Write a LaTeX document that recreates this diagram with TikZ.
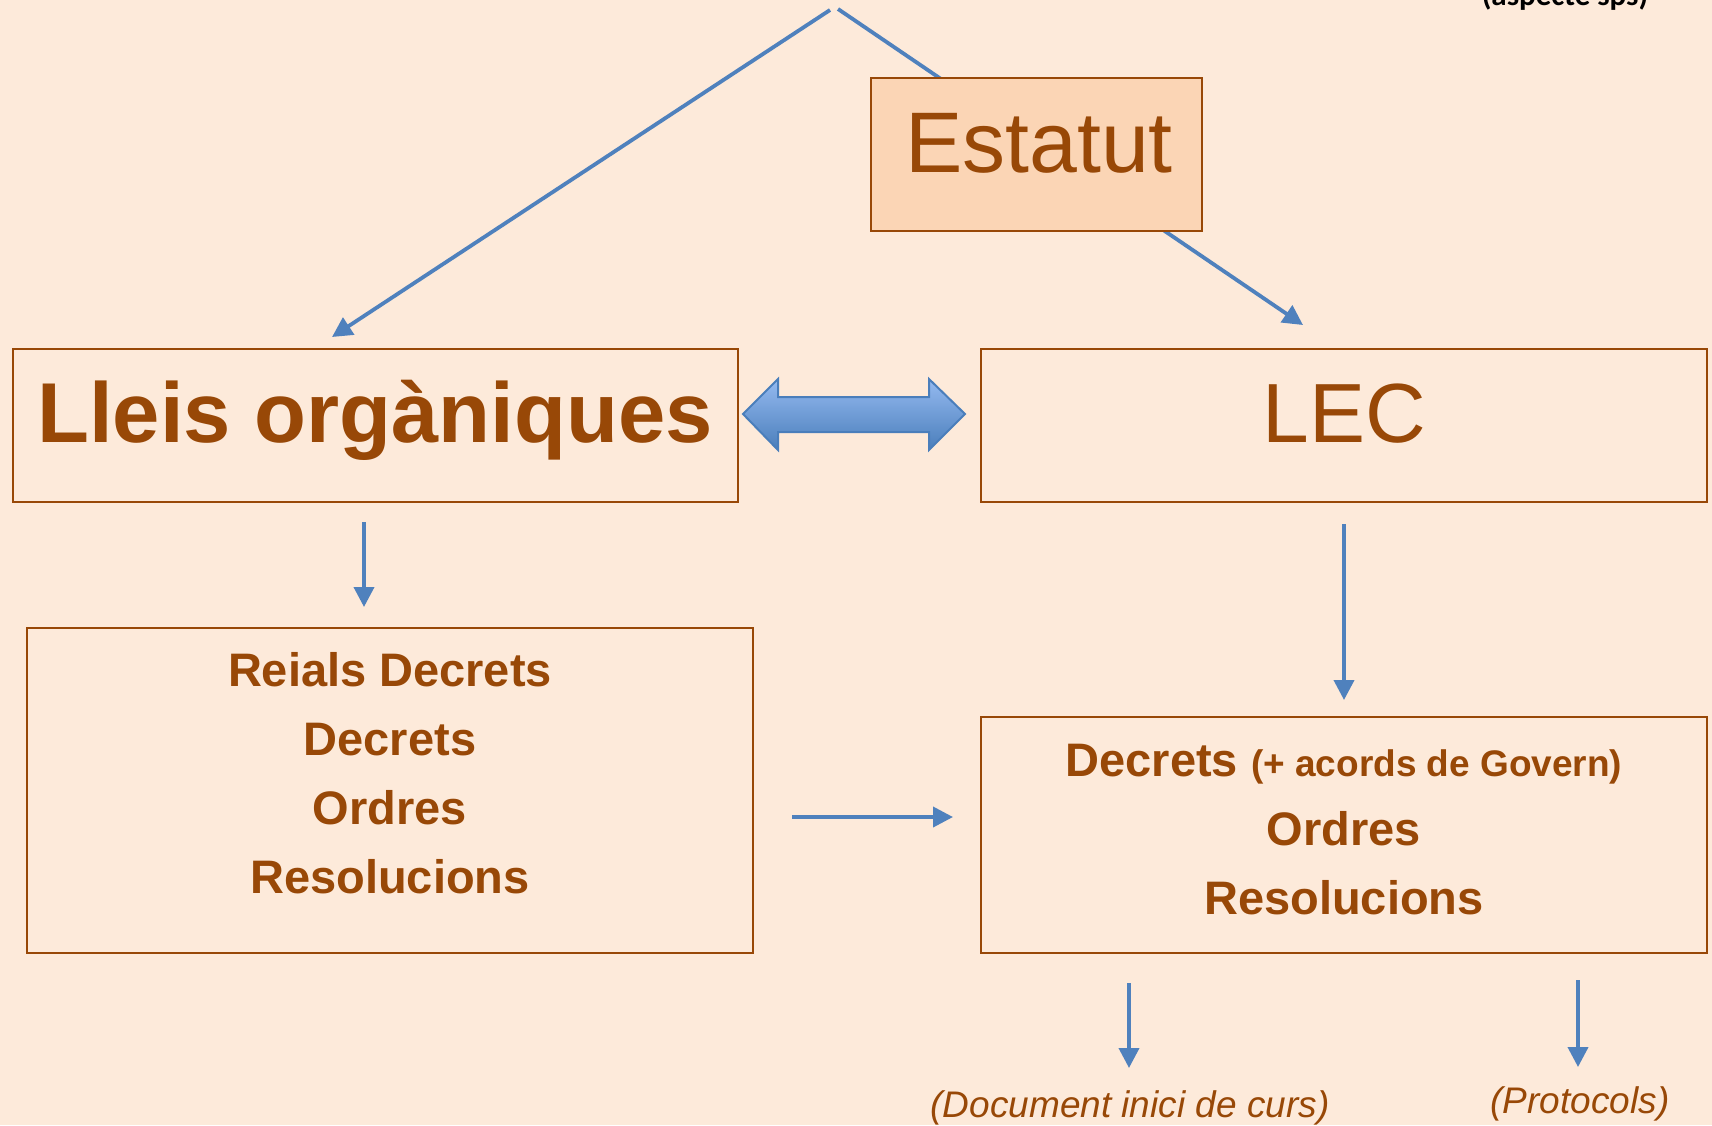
\documentclass[tikz,border=0pt]{standalone}
\usepackage{fontspec}
\setmainfont{Liberation Sans}
\newfontfamily\calib{Carlito}
\usetikzlibrary{arrows.meta}
\definecolor{bg}{HTML}{FDEADA}
\definecolor{brn}{HTML}{984807}
\definecolor{estfill}{HTML}{FBD5B5}
\definecolor{blu}{HTML}{4F81BD}
\definecolor{blulight}{HTML}{95BAF0}
\definecolor{bludark}{HTML}{4A7EBB}
\tikzset{
  box/.style={draw=brn, line width=2.8pt, inner sep=0pt},
  txt/.style={text=brn, anchor=base, inner sep=0pt},
  conn/.style={draw=blu, line width=3.8pt, -{Triangle[length=20pt,width=20pt]}},
}
\begin{document}
\begin{tikzpicture}[x=1pt,y=-1pt]
\fill[bg] (0,0) rectangle (1712,1125);
\useasboundingbox (0,0) rectangle (1712,1125);

% partially visible top-right text (cut off at the top edge, as in the reference)
\begin{scope}
\clip (1400,0) rectangle (1712,20);
\node[anchor=base, inner sep=0pt, text=black] (note) at (1565,5) {\calib\bfseries\fontsize{31}{33}\selectfont (aspecte sps)};
\end{scope}

% apex coordinates and arrow targets
\coordinate (apexL) at (830,10);
\coordinate (apexR) at (838,9);
\coordinate (tipL) at (332,337);
\coordinate (tipR) at (1303,325);

\draw[conn] (apexL) -- (tipL);
\draw[conn] (apexR) -- (tipR);

% Estatut box
\node[box, fill=estfill, minimum width=331pt, minimum height=153pt] (est) at (1036.5,154.5) {};
\node[txt] (estT) at (1039,172) {\fontsize{86}{90}\selectfont Estatut};

% Lleis organiques box
\node[box, minimum width=725pt, minimum height=153pt] (lo) at (375.5,425.5) {};
\node[txt] (loT) at (375,442) {\bfseries\fontsize{85}{90}\selectfont Lleis orgàniques};

% LEC box
\node[box, minimum width=726pt, minimum height=153pt] (lec) at (1344,425.5) {};
\node[txt] (lecT) at (1344,442) {\fontsize{84}{90}\selectfont LEC};

% double arrow
\shade[top color=blulight, bottom color=bludark, draw=bludark, line width=2pt, line join=miter]
  (743,414) -- (778,379) -- (778,397) -- (929,397) -- (929,379) -- (965,414)
  -- (929,450) -- (929,432) -- (778,432) -- (778,450) -- cycle;

% lower left box
\node[box, minimum width=726pt, minimum height=325pt] (ll) at (390,790.5) {};
\node[txt] (ll1) at (390,686) {\bfseries\fontsize{47}{50}\selectfont Reials Decrets};
\node[txt] (ll2) at (390,755) {\bfseries\fontsize{47}{50}\selectfont Decrets};
\node[txt] (ll3) at (390,824) {\bfseries\fontsize{47}{50}\selectfont Ordres};
\node[txt] (ll4) at (390,893) {\bfseries\fontsize{47}{50}\selectfont Resolucions};

% lower right box
\node[box, minimum width=726pt, minimum height=236pt] (lr) at (1344,835) {};
\node[txt] (lr1) at (1344,776) {\bfseries\fontsize{47}{50}\selectfont Decrets {\fontsize{37}{40}\selectfont (+ acords de Govern)}};
\node[txt] (lr2) at (1344,845) {\bfseries\fontsize{47}{50}\selectfont Ordres};
\node[txt] (lr3) at (1344,914) {\bfseries\fontsize{47}{50}\selectfont Resolucions};

% vertical / horizontal arrows
\coordinate (a1s) at (364,522); \coordinate (a1e) at (364,607);
\coordinate (a2s) at (1344,524); \coordinate (a2e) at (1344,700);
\coordinate (a3s) at (792,817); \coordinate (a3e) at (953,817);
\coordinate (a4s) at (1129,983); \coordinate (a4e) at (1129,1068);
\coordinate (a5s) at (1578,980); \coordinate (a5e) at (1578,1067);
\draw[conn] (a1s) -- (a1e);
\draw[conn] (a2s) -- (a2e);
\draw[conn] (a3s) -- (a3e);
\draw[conn] (a4s) -- (a4e);
\draw[conn] (a5s) -- (a5e);

% bottom italic texts
\node[txt] (doc) at (1130,1117) {\itshape\fontsize{37}{40}\selectfont (Document inici de curs)};
\node[txt] (prot) at (1580,1113) {\itshape\fontsize{37}{40}\selectfont (Protocols)};
\end{tikzpicture}
\end{document}
